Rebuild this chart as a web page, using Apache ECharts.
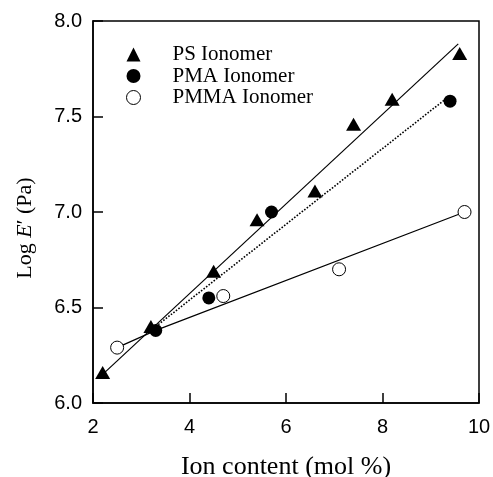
<!DOCTYPE html>
<html>
<head>
<meta charset="utf-8">
<script src="https://cdn.jsdelivr.net/npm/echarts@6/dist/echarts.min.js"></script>
<style>
	html, body { margin: 0; padding: 0; background: #fff; }
	#chart { width: 493px; height: 477px; }
</style>
</head>
<body>
<div id="chart"></div>
<script>
	// measured points
	const psX = [2.2, 3.2, 4.5, 5.4, 6.6, 7.4, 8.2, 9.6]
	const psY = [6.16, 6.40, 6.69, 6.96, 7.11, 7.46, 7.59, 7.83]
	const pmaX = [3.3, 4.4, 5.7, 9.4]
	const pmaY = [6.38, 6.55, 7.00, 7.58]
	const pmmaX = [2.5, 4.7, 7.1, 9.7]
	const pmmaY = [6.29, 6.56, 6.70, 7.00]

	// fitted lines
	const psFit = [[2.2, 6.15], [9.57, 7.88]]
	const pmaFit = [[3.3, 6.40], [9.3, 7.59]]
	const pmmaFit = [[2.5, 6.29], [3.3, 6.38], [9.65, 6.995]]

	const xTicks = [2, 4, 6, 8, 10]
	const yTicks = [6.0, 6.5, 7.0, 7.5, 8.0]

	const seriesNames = ['PS Ionomer', 'PMA Ionomer', 'PMMA Ionomer']

	const pairs = (xs, ys) => xs.map((x, i) => [x, ys[i]])

	const serif = 'Liberation Serif'
	const sans = 'Liberation Sans'

	const myChart = echarts.init(document.getElementById('chart'))

	const fitLine = (data, type) => ({
		type: 'line',
		data: data,
		symbol: 'none',
		silent: true,
		z: 1,
		lineStyle: { color: '#000', width: type === 'dotted' ? 1.6 : 1.2, type: type }
	})

	const option = {
		animation: false,
		backgroundColor: '#fff',
		grid: {
			left: 93, right: 14, top: 21, bottom: 74,
			outerBoundsMode: 'none',
			show: true, borderColor: '#000', borderWidth: 1.5
		},
		legend: {
			orient: 'vertical',
			left: 126, top: 44,
			padding: 0,
			itemWidth: 14, itemHeight: 14, itemGap: 0.5,
			textStyle: { fontFamily: serif, fontSize: 21, color: '#000', padding: [0, 0, 0, 27] },
			data: [
				{ name: seriesNames[0], icon: 'triangle', itemStyle: { color: '#000' } },
				{ name: seriesNames[1], icon: 'circle', itemStyle: { color: '#000' } },
				{ name: seriesNames[2], icon: 'circle', itemStyle: { color: '#fff', borderColor: '#000', borderWidth: 1 } }
			]
		},
		xAxis: {
			type: 'value',
			min: xTicks[0], max: xTicks[xTicks.length - 1], interval: 2,
			name: 'Ion content (mol %)',
			nameLocation: 'middle', nameGap: 51,
			nameTextStyle: { fontFamily: serif, fontSize: 26, color: '#000' },
			axisLine: { lineStyle: { color: '#000', width: 1.5 } },
			axisTick: { inside: true, length: 10, lineStyle: { color: '#000', width: 1.5 } },
			axisLabel: { fontFamily: sans, fontSize: 20, color: '#000', margin: 14 },
			splitLine: { show: false }
		},
		yAxis: {
			type: 'value',
			min: yTicks[0], max: yTicks[yTicks.length - 1], interval: 0.5,
			name: 'Log {i|E}\u2032 (Pa)',
			nameLocation: 'middle', nameGap: 57,
			nameTextStyle: {
				fontFamily: serif, fontSize: 22, color: '#000', padding: [0, 32, 0, 0],
				rich: { i: { fontFamily: serif, fontSize: 22, fontStyle: 'italic', color: '#000' } }
			},
			axisLine: { lineStyle: { color: '#000', width: 1.5 } },
			axisTick: { inside: true, length: 10, lineStyle: { color: '#000', width: 1.5 } },
			axisLabel: {
				fontFamily: sans, fontSize: 20, color: '#000', margin: 11,
				formatter: v => v.toFixed(1)
			},
			splitLine: { show: false }
		},
		series: [
			fitLine(psFit, 'solid'),
			fitLine(pmaFit, 'dotted'),
			fitLine(pmmaFit, 'solid'),
			{
				name: seriesNames[0], type: 'scatter', z: 3,
				symbol: 'triangle', symbolSize: [15, 13],
				itemStyle: { color: '#000', opacity: 1 },
				data: pairs(psX, psY)
			},
			{
				name: seriesNames[1], type: 'scatter', z: 3,
				symbol: 'circle', symbolSize: 13,
				itemStyle: { color: '#000', opacity: 1 },
				data: pairs(pmaX, pmaY)
			},
			{
				name: seriesNames[2], type: 'scatter', z: 3,
				symbol: 'circle', symbolSize: 13,
				itemStyle: { color: '#fff', borderColor: '#000', borderWidth: 1, opacity: 1 },
				data: pairs(pmmaX, pmmaY)
			}
		]
	}

	myChart.setOption(option)
</script>
</body>
</html>
